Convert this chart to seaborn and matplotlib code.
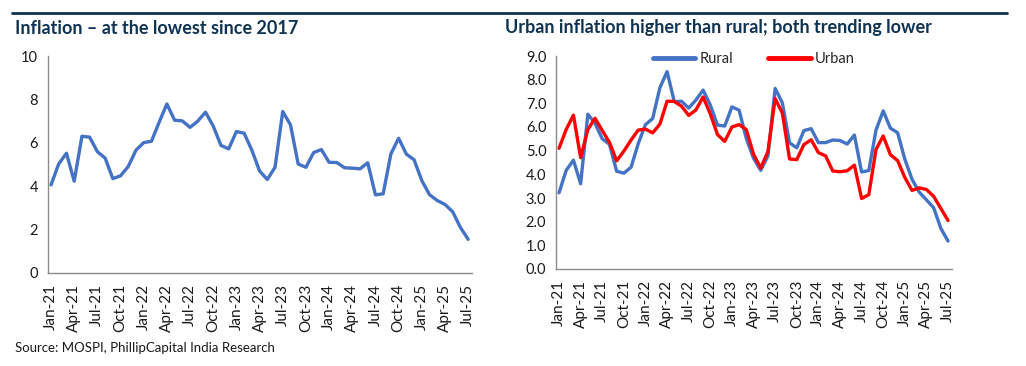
import pandas as pd
import matplotlib.pyplot as plt
import seaborn as sns

# monthly CPI inflation (% y/y), Jan-21 .. Jul-25
months = pd.date_range("2021-01-01", "2025-07-01", freq="MS").strftime("%b-%y").tolist()

headline = [4.06, 5.03, 5.52, 4.23, 6.30, 6.26, 5.59, 5.30, 4.35, 4.48, 4.91, 5.66,
            6.01, 6.07, 6.95, 7.79, 7.04, 7.01, 6.71, 7.00, 7.41, 6.77, 5.88, 5.72,
            6.52, 6.44, 5.66, 4.70, 4.31, 4.87, 7.44, 6.83, 5.02, 4.87, 5.55, 5.69,
            5.10, 5.09, 4.85, 4.83, 4.80, 5.08, 3.60, 3.65, 5.49, 6.21, 5.48, 5.22,
            4.26, 3.61, 3.34, 3.16, 2.82, 2.10, 1.55]

rural = [3.22, 4.17, 4.60, 3.60, 6.54, 6.15, 5.50, 5.27, 4.13, 4.05, 4.30, 5.30,
         6.10, 6.36, 7.66, 8.34, 7.07, 7.09, 6.80, 7.14, 7.56, 6.93, 6.08, 6.04,
         6.85, 6.71, 5.51, 4.68, 4.17, 4.78, 7.63, 7.02, 5.33, 5.12, 5.85, 5.93,
         5.34, 5.34, 5.45, 5.43, 5.28, 5.66, 4.10, 4.16, 5.87, 6.68, 5.95, 5.76,
         4.64, 3.79, 3.25, 2.92, 2.59, 1.72, 1.18]

urban = [5.10, 5.90, 6.50, 4.70, 5.89, 6.37, 5.85, 5.35, 4.57, 4.98, 5.45, 5.87,
         5.91, 5.75, 6.12, 7.09, 7.08, 6.88, 6.49, 6.72, 7.27, 6.55, 5.68, 5.39,
         6.00, 6.10, 5.89, 4.85, 4.27, 4.96, 7.20, 6.59, 4.65, 4.62, 5.26, 5.46,
         4.92, 4.78, 4.14, 4.11, 4.15, 4.39, 2.98, 3.14, 5.05, 5.62, 4.83, 4.58,
         3.87, 3.32, 3.43, 3.36, 3.07, 2.56, 2.05]

df = pd.DataFrame({"idx": range(len(months)), "month": months,
                   "headline": headline, "Rural": rural, "Urban": urban})
long = df.melt(id_vars=["idx", "month"], value_vars=["Rural", "Urban"],
               var_name="series", value_name="cpi")

sns.set_style("white")
plt.rcParams["font.family"] = ["Lato", "DejaVu Sans"]

W, H = 1026, 366
fig = plt.figure(figsize=(W / 100, H / 100), dpi=100)

navy = "#0f3352"
blue = "#4472C4"
red = "#FF0000"
grey = "#8c8c8c"


def px_axes(x0, y0, x1, y1):
    return fig.add_axes([x0 / W, 1 - y1 / H, (x1 - x0) / W, (y1 - y0) / H])


def style(ax):
    sns.despine(ax=ax)
    for s in ["left", "bottom"]:
        ax.spines[s].set_color(grey)
        ax.spines[s].set_linewidth(1)
    ticks = list(range(0, len(months), 3))
    ax.set_xticks(ticks)
    ax.set_xticklabels([months[i] for i in ticks], rotation=90)
    ax.tick_params(axis="both", colors=grey, length=4, width=1, labelsize=10.5,
                   labelcolor="#1a1a1a", pad=3)
    ax.tick_params(axis="x", direction="out", length=5, labelsize=11)
    ax.set_xlim(-0.43, 54.5)
    ax.set_xlabel("")
    ax.set_ylabel("")


# left chart
ax1 = px_axes(47.7, 56, 472, 273)
sns.lineplot(data=df, x="idx", y="headline", ax=ax1, color=blue, linewidth=2.4)
style(ax1)
ax1.set_ylim(0, 10)
ax1.set_yticks(range(0, 11, 2))

# right chart
ax2 = px_axes(556, 56, 952, 269)
sns.lineplot(data=long, x="idx", y="cpi", hue="series", ax=ax2,
             palette={"Rural": blue, "Urban": red}, linewidth=2.4)
style(ax2)
ax2.set_xlim(-0.42, 54.55)
ax2.set_ylim(0, 9)
ax2.set_yticks([i * 1.0 for i in range(10)])
ax2.set_yticklabels([f"{i:.1f}" for i in range(10)])
leg = ax2.legend(loc="upper center", bbox_to_anchor=(0.5, 1.08), ncol=2,
                 frameon=False, fontsize=10.5, handlelength=2.9, columnspacing=2.4,
                 handletextpad=0.3)
for line in leg.get_lines():
    line.set_linewidth(3.5)

# header rule and titles
fig.add_artist(plt.Line2D([12 / W, 1007 / W], [1 - 13 / H, 1 - 13 / H],
                          color=navy, linewidth=2))
fig.text(15 / W, 1 - 28 / H, "Inflation \u2013 at the lowest since 2017",
         fontsize=13, fontweight="bold", color=navy, va="center")
fig.text(505 / W, 1 - 28 / H, "Urban inflation higher than rural; both trending lower",
         fontsize=13, fontweight="bold", color=navy, va="center")
fig.text(15 / W, 1 - 348 / H, "Source: MOSPI, PhillipCapital India Research",
         fontsize=9.5, color="#1a1a1a", va="center")

fig.savefig("out.png", dpi=100)
